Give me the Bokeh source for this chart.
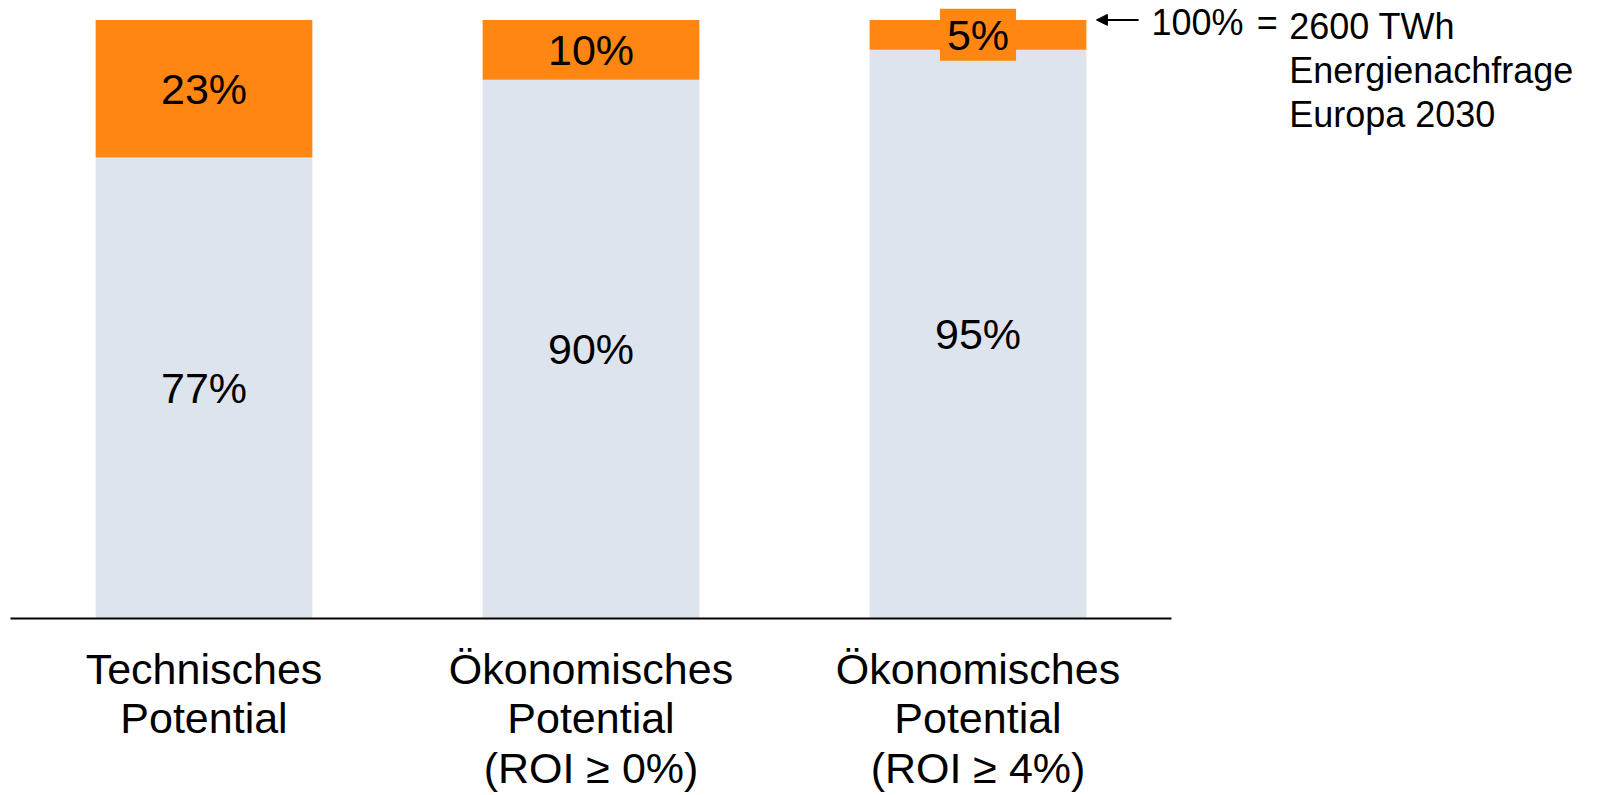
from bokeh.plotting import figure
from bokeh.models import Range1d, FixedTicker, Label, Arrow, NormalHead
from bokeh.embed import file_html
from bokeh.resources import INLINE

# Potential scenarios (share of 2030 European energy demand, %)
categories = [
    "Technisches\nPotential",
    "Ökonomisches\nPotential\n(ROI ≥ 0%)",
    "Ökonomisches\nPotential\n(ROI ≥ 4%)",
]
base_share = [77, 90, 95]
top_share = [23, 10, 5]
total_label = "100%"
total_text = "2600 TWh\nEnergienachfrage\nEuropa 2030"

ORANGE = "#FF8612"
LIGHT = "#DEE4EE"
FONT = "Liberation Sans"

xs = [i + 0.5 for i in range(len(categories))]
bar_w = 0.56

p = figure(
    width=1598, height=795,
    x_range=Range1d(0, 1578 / 387), y_range=Range1d(0, 103.24),
    output_backend="svg", toolbar_location=None,
    min_border_left=10, min_border_right=10,
    min_border_top=0, min_border_bottom=176,
)
p.outline_line_color = None
p.background_fill_color = "white"
p.border_fill_color = "white"
p.grid.visible = False
p.yaxis.visible = False

tops = [b + t for b, t in zip(base_share, top_share)]
p.vbar(x=xs, width=bar_w, bottom=0, top=base_share, fill_color=LIGHT, line_color=None)
p.vbar(x=xs, width=bar_w, bottom=base_share, top=tops, fill_color=ORANGE, line_color=None)

# category axis
ax = p.xaxis[0]
ax.ticker = FixedTicker(ticks=xs)
ax.major_label_overrides = {x: c for x, c in zip(xs, categories)}
ax.bounds = (0, len(categories))
ax.axis_line_color = "black"
ax.axis_line_width = 2
ax.major_tick_line_color = None
ax.minor_tick_line_color = None
ax.major_tick_out = 0
ax.major_tick_in = 0
ax.axis_label_standoff = 0
ax.major_label_text_font = FONT
ax.major_label_text_font_size = "43px"
ax.major_label_text_color = "black"
ax.major_label_text_line_height = 1.04
ax.major_label_standoff = 26
ax.major_label_text_align = "center"

# value labels
for x, b, t in zip(xs, base_share, top_share):
    p.add_layout(Label(x=x, y=b / 2, text=f"{b}%", text_font=FONT, text_font_size="43px",
                       text_align="center", text_baseline="middle", text_color="black"))
    p.add_layout(Label(x=x, y=b + t / 2, text=f"{t}%", text_font=FONT, text_font_size="43px",
                       text_align="center", text_baseline="middle", text_color="black",
                       background_fill_color=ORANGE, padding=(7, 2)))

# 100% marker pointing at the top of the last bar
total = tops[-1]
edge = xs[-1] + bar_w / 2
p.add_layout(Arrow(x_start=edge + 0.135, y_start=total, x_end=edge + 0.026, y_end=total,
                   line_color="black", line_width=2,
                   end=NormalHead(size=11, fill_color="black", line_color="black")))
p.add_layout(Label(x=edge + 0.168, y=total - 0.5, text=total_label, text_font=FONT, text_font_size="36px",
                   text_align="left", text_baseline="middle", text_color="black"))
p.add_layout(Label(x=edge + 0.44, y=total - 0.5, text="=", text_font=FONT, text_font_size="36px",
                   text_align="left", text_baseline="middle", text_color="black"))
p.add_layout(Label(x=edge + 0.524, y=total + 2.4, text=total_text, text_font=FONT, text_font_size="36px",
                   text_align="left", text_baseline="top", text_color="black", text_line_height=1.08))

open("out.html", "w").write(file_html(p, INLINE))
